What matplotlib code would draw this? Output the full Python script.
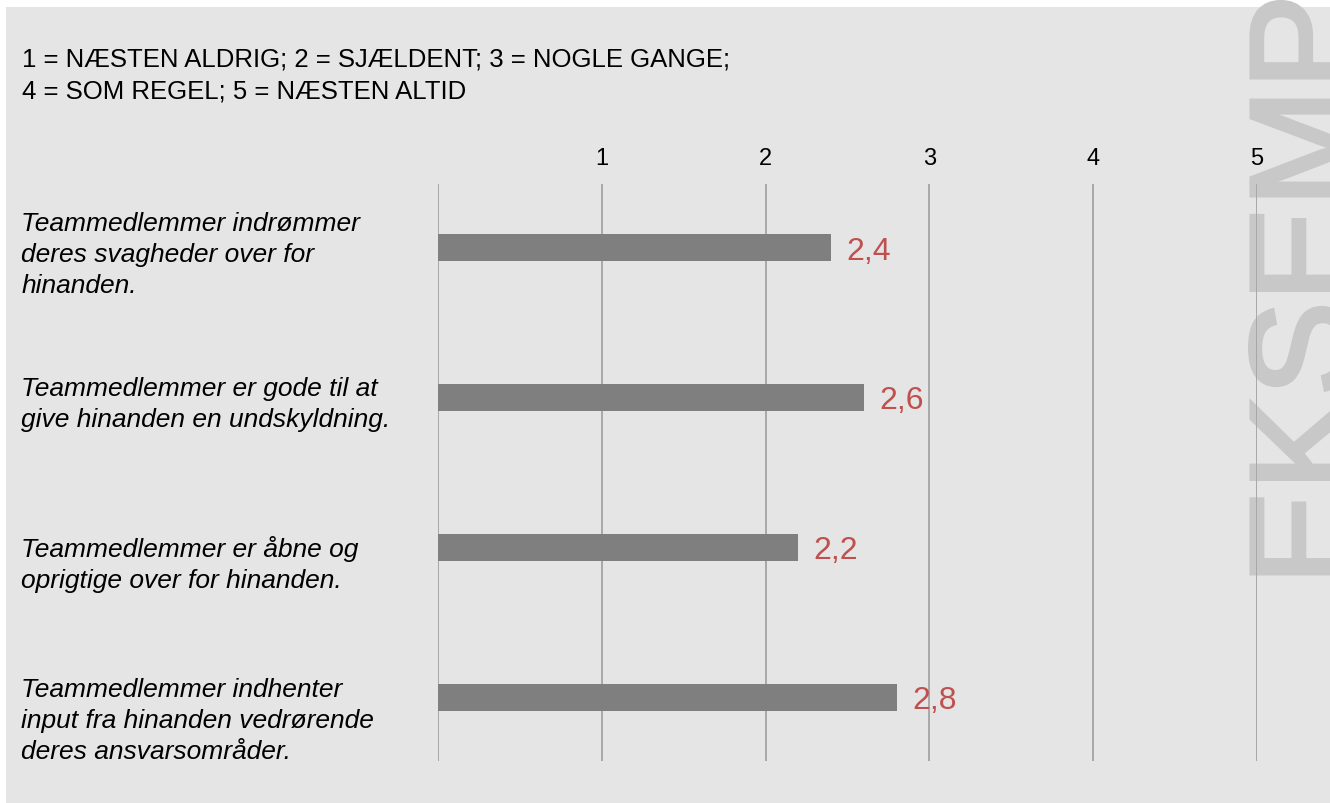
import matplotlib.pyplot as plt
import matplotlib.patheffects as pe
from matplotlib.patches import Rectangle
from matplotlib.transforms import ScaledTranslation

plt.rcParams['font.family'] = ['Liberation Sans', 'DejaVu Sans']

statements = [
    'Teammedlemmer indrømmer\nderes svagheder over for\nhinanden.',
    'Teammedlemmer er gode til at\ngive hinanden en undskyldning.',
    'Teammedlemmer er åbne og\noprigtige over for hinanden.',
    'Teammedlemmer indhenter\ninput fra hinanden vedrørende\nderes ansvarsområder.',
]
scores = [2.4, 2.6, 2.2, 2.8]
scale_ticks = [0, 1, 2, 3, 4, 5]
scale_labels = ['', '1', '2', '3', '4', '5']
legend_text = '1 = NÆSTEN ALDRIG; 2 = SJÆLDENT; 3 = NOGLE GANGE;\n4 = SOM REGEL; 5 = NÆSTEN ALTID'

# how far each statement sits below its bar centre (pixels)
label_drop = [0, 0, 10, 17]

fig = plt.figure(figsize=(13.3, 8.04), dpi=100)
fig.patch.set_facecolor('white')

# grey panel behind everything
fig.patches.append(Rectangle((6 / 1330, 0), 1 - 6 / 1330, 1 - 8 / 804,
                             transform=fig.transFigure, facecolor='#e5e5e5',
                             edgecolor='none', zorder=-3))

# watermark, baseline lies off the right edge
fig.text(1349 / 1330, 1 - 586 / 804, 'EKSEMPEL', rotation=90,
         rotation_mode='anchor', ha='left', va='baseline', fontsize=102,
         color='#c8c8c8', zorder=-2,
         path_effects=[pe.withStroke(linewidth=3, foreground='#c8c8c8',
                                     joinstyle='miter')])

ax = fig.add_axes([438 / 1330, 1 - 762 / 804, 819 / 1330, 577 / 804])
ax.set_facecolor('none')

ypos = list(range(len(scores)))
ax.barh(ypos, scores, height=0.18, color='#7f7f7f', zorder=2)

for y, v in zip(ypos, scores):
    ax.annotate(f'{v:.1f}'.replace('.', ','), xy=(v, y), xytext=(11, -2),
                textcoords='offset points', ha='left', va='center',
                fontsize=23, color='#c0504d', zorder=3)

ax.set_xlim(0, 5)
ax.set_ylim(len(scores) - 0.573, -0.427)

ax.xaxis.tick_top()
ax.set_xticks(scale_ticks)
ax.set_xticklabels(scale_labels, fontsize=17)
ax.tick_params(axis='x', length=0, pad=11)
ax.grid(axis='x', color='#a8a8a8', linewidth=1.4, zorder=0)
ax.set_axisbelow(True)

ax.set_yticks(ypos)
ax.set_yticklabels(statements, fontsize=19, style='italic', ha='left',
                   linespacing=1.38)
ax.tick_params(axis='y', length=0, pad=300)
for lbl, d in zip(ax.get_yticklabels(), label_drop):
    lbl.set_transform(lbl.get_transform() +
                      ScaledTranslation(0, -d / 100, fig.dpi_scale_trans))

for s in ax.spines.values():
    s.set_visible(False)

fig.text(22 / 1330, 1 - 47 / 804, legend_text, ha='left', va='top',
         fontsize=18.5, linespacing=1.45)

fig.savefig('out.png', dpi=100)
